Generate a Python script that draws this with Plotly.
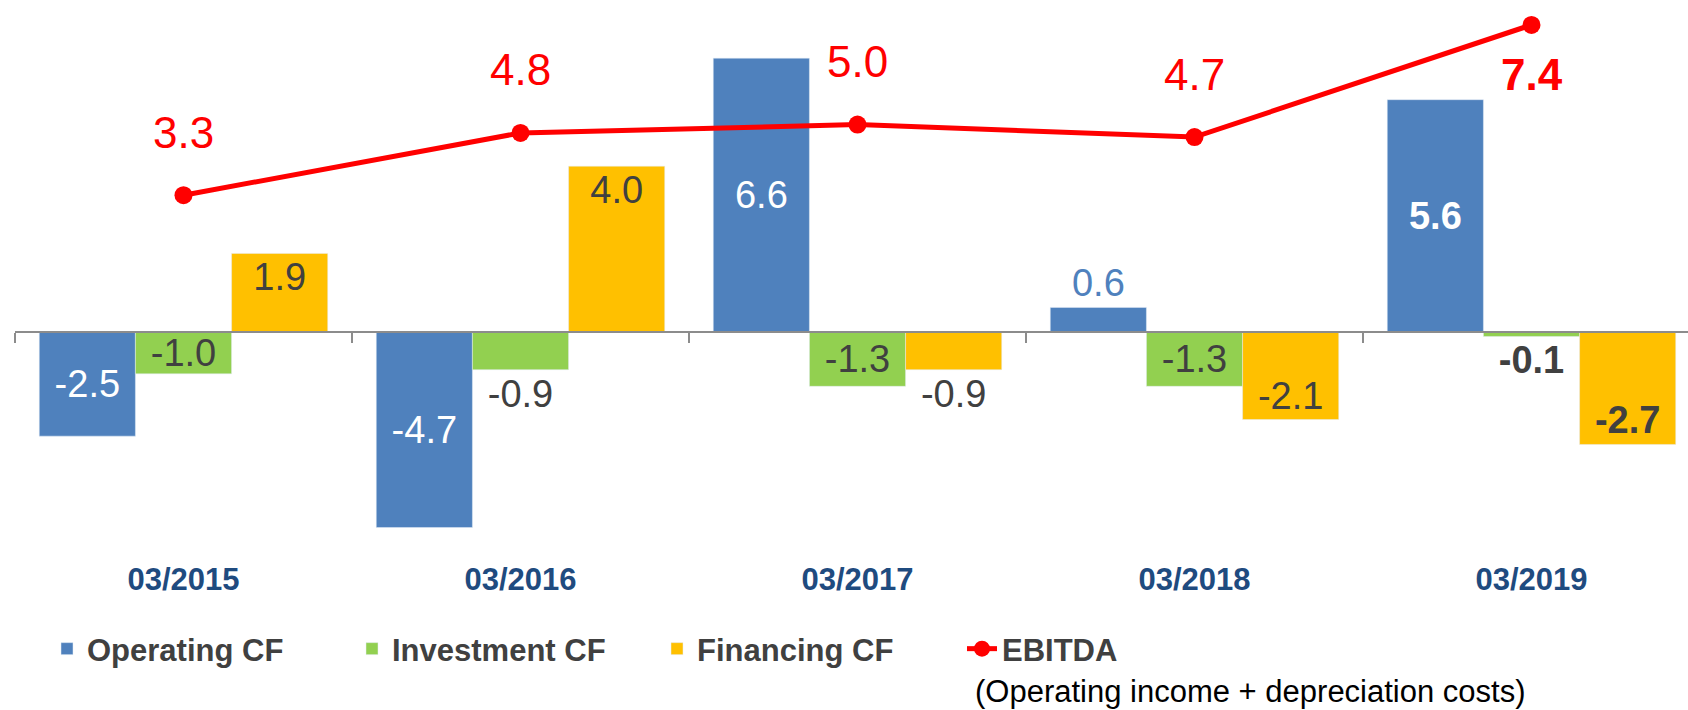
import plotly.graph_objects as go

# ---- data ----
categories = ["03/2015", "03/2016", "03/2017", "03/2018", "03/2019"]
operating_cf = [-2.5, -4.7, 6.6, 0.6, 5.6]
investment_cf = [-1.0, -0.9, -1.3, -1.3, -0.1]
financing_cf = [1.9, 4.0, -0.9, -2.1, -2.7]
ebitda = [3.3, 4.8, 5.0, 4.7, 7.4]
bold_index = 4  # latest year shown in bold

# ---- styles ----
FONT = "Liberation Sans, Arial, sans-serif"
C_OP, C_INV, C_FIN, C_EB = "#4F81BD", "#92D050", "#FFC000", "#FF0000"
TXT = "#404040"
Y_MIN, Y_MAX = -5, 8


def labels(vals):
    out = []
    for i, v in enumerate(vals):
        s = f"{v:.1f}"
        out.append(f"<b>{s}</b>" if i == bold_index else s)
    return out


fig = go.Figure()

fig.add_trace(go.Bar(
    name="Operating CF", x=categories, y=operating_cf, marker_color=C_OP,
    text=labels(operating_cf),
    textposition=["inside", "inside", "inside", "outside", "inside"],
    insidetextanchor="middle",
    insidetextfont=dict(family=FONT, size=38, color="white"),
    outsidetextfont=dict(family=FONT, size=38, color=C_OP),
    constraintext="none", cliponaxis=False, hoverinfo="skip",
))
fig.add_trace(go.Bar(
    name="Investment CF", x=categories, y=investment_cf, marker_color=C_INV,
    text=labels(investment_cf),
    textposition=["inside", "outside", "inside", "inside", "outside"],
    insidetextanchor="middle",
    textfont=dict(family=FONT, size=38, color=TXT),
    constraintext="none", cliponaxis=False, hoverinfo="skip",
))
fig.add_trace(go.Bar(
    name="Financing CF", x=categories, y=financing_cf, marker_color=C_FIN,
    text=labels(financing_cf),
    textposition=["inside", "inside", "outside", "inside", "inside"],
    insidetextanchor="end",
    textfont=dict(family=FONT, size=38, color=TXT),
    constraintext="none", cliponaxis=False, hoverinfo="skip",
))
fig.add_trace(go.Scatter(
    name="EBITDA", x=categories, y=ebitda, mode="lines+markers",
    line=dict(color=C_EB, width=5), marker=dict(color=C_EB, size=18),
    cliponaxis=False, hoverinfo="skip",
))
# helper trace so the zero-line axis is drawn
fig.add_trace(go.Scatter(x=categories, y=[None] * len(categories), xaxis="x2",
                         showlegend=False, hoverinfo="skip"))

# EBITDA value labels
for i, (c, v) in enumerate(zip(categories, ebitda)):
    last = i == bold_index
    fig.add_annotation(
        x=c, y=v, xref="x", yref="y", showarrow=False,
        text=f"<b>{v:.1f}</b>" if last else f"{v:.1f}",
        yshift=-50 if last else 63,
        font=dict(family=FONT, size=44, color=C_EB),
    )

fig.add_annotation(
    text="(Operating income + depreciation costs)",
    xref="paper", yref="paper", x=(1250 - 15) / 1673, y=(540 - 691) / 540,
    xanchor="center", yanchor="middle", showarrow=False,
    font=dict(family=FONT, size=31, color="#000000"),
)

x_range = [-0.5, -0.5 + 1673 / 337]

fig.update_layout(
    width=1688, height=710,
    margin=dict(l=15, r=0, t=0, b=170),
    paper_bgcolor="white", plot_bgcolor="white",
    barmode="group", bargap=0.144, bargroupgap=0,
    font=dict(family=FONT, color=TXT),
    showlegend=True,
    legend=dict(
        orientation="h", xref="container", yref="container",
        x=47 / 1688, y=1 - 649 / 710, xanchor="left", yanchor="middle",
        font=dict(family=FONT, size=31, color=TXT, weight="bold"),
        entrywidth=260, bgcolor="rgba(0,0,0,0)",
    ),
    xaxis=dict(
        type="category", categoryarray=categories, range=x_range,
        showline=False, showgrid=False, zeroline=False, ticks="",
        tickfont=dict(family=FONT, size=31, color="#1F4B7F", weight="bold"),
        ticklabelstandoff=18,
    ),
    xaxis2=dict(
        type="category", categoryarray=categories, range=x_range,
        overlaying="x", anchor="free", position=(0 - Y_MIN) / (Y_MAX - Y_MIN),
        side="bottom", showline=True, linecolor="#8C8C8C", linewidth=2,
        ticks="outside", ticklen=10, tickwidth=2, tickcolor="#8C8C8C",
        tickson="boundaries", showticklabels=False, showgrid=False, zeroline=False,
    ),
    yaxis=dict(range=[Y_MIN, Y_MAX], visible=False, showgrid=False, zeroline=False),
)

fig.write_html("out.html", config={"displayModeBar": False},
               post_script="document.body.style.margin='0px';")
